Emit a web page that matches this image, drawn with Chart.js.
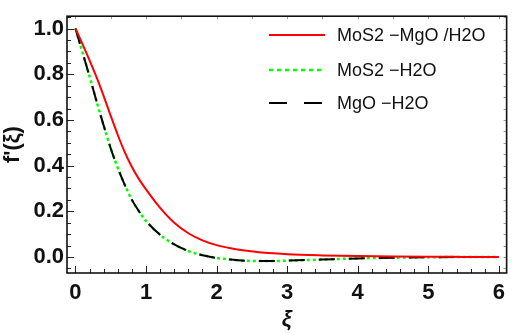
<!DOCTYPE html>
<html>
<head>
<meta charset="utf-8">
<script src="https://cdn.jsdelivr.net/npm/chart.js@4.4.0/dist/chart.umd.min.js"></script>
<style>
  html, body { margin: 0; padding: 0; background: #fff; }
  #wrap { width: 512px; height: 334px; }
</style>
</head>
<body>
<div id="wrap"><canvas id="myChart"></canvas></div>
<script>
// xi values and the f'(xi) profiles
var xi = [0, 0.1, 0.2, 0.3, 0.4, 0.5, 0.6, 0.7, 0.8, 0.9, 1.0, 1.2, 1.4, 1.6, 1.8, 2.0, 2.2, 2.4, 2.6, 2.8, 3.0, 3.5, 4.0, 4.5, 5.0, 5.5, 6.0];
var hybrid = [1, 0.932, 0.861, 0.786, 0.704, 0.618, 0.534, 0.458, 0.394, 0.341, 0.296, 0.215, 0.150, 0.104, 0.073, 0.052, 0.038, 0.028, 0.021, 0.016, 0.012, 0.007, 0.004, 0.002, 0.001, 0.0005, 0];
var mos2Water = [1, 0.895, 0.79, 0.68, 0.575, 0.475, 0.39, 0.315, 0.25, 0.2, 0.158, 0.097, 0.055, 0.026, 0.008, -0.004, -0.011, -0.016, -0.018, -0.018, -0.016, -0.011, -0.006, -0.003, -0.001, 0, 0];
var mgoWater = [1, 0.895, 0.79, 0.68, 0.575, 0.475, 0.39, 0.315, 0.25, 0.2, 0.158, 0.097, 0.055, 0.026, 0.008, -0.004, -0.011, -0.016, -0.018, -0.018, -0.016, -0.011, -0.006, -0.003, -0.001, 0, 0];
var seriesNames = ["MoS2 \u2212MgO /H2O", "MoS2 \u2212H2O", "MgO \u2212H2O"];
var xTicks = [0, 1, 2, 3, 4, 5, 6];
var yTicks = [0, 0.2, 0.4, 0.6, 0.8, 1.0];

function pts(ys) {
    return xi.map(function(x, i) { return {x: x, y: ys[i]}; });
}

var FONT = "'Liberation Sans', Arial, sans-serif";

// frame with inward ticks, like the original plot
var framePlugin = {
    id: 'frame',
    afterDraw: function(chart) {
        var ctx = chart.ctx, a = chart.chartArea;
        var sx = chart.scales.x, sy = chart.scales.y;
        ctx.save();
        ctx.strokeStyle = '#222';
        ctx.lineWidth = 1;
        // bottom ticks
        for (var i = 0; i <= 60; i++) {
            var v = i / 10;
            if (i % 2) continue;
            var px = Math.round(sx.getPixelForValue(v)) + 0.5;
            var len = (i % 10 === 0) ? 7 : 4;
            ctx.beginPath(); ctx.moveTo(px, a.bottom); ctx.lineTo(px, a.bottom - len); ctx.stroke();
        }
        // left ticks
        for (var j = -1; j <= 21; j++) {
            var yv = j * 0.05;
            var py = Math.round(sy.getPixelForValue(yv)) + 0.5;
            if (py < a.top || py > a.bottom) continue;
            var l2 = (j % 4 === 0) ? 7 : 4;
            ctx.beginPath(); ctx.moveTo(a.left, py); ctx.lineTo(a.left + l2, py); ctx.stroke();
        }
        // top and right small ticks
        ctx.strokeStyle = '#999';
        for (var k = 0; k <= 12; k++) {
            var tx = Math.round(sx.getPixelForValue(k * 0.5)) + 0.5;
            ctx.beginPath(); ctx.moveTo(tx, a.top); ctx.lineTo(tx, a.top + 3); ctx.stroke();
        }
        for (var m = -1; m <= 21; m++) {
            var ty = Math.round(sy.getPixelForValue(m * 0.05)) + 0.5;
            if (ty < a.top || ty > a.bottom) continue;
            ctx.beginPath(); ctx.moveTo(a.right, ty); ctx.lineTo(a.right - 3, ty); ctx.stroke();
        }
        ctx.strokeStyle = '#111';
        ctx.lineWidth = 1.6;
        ctx.strokeRect(a.left, a.top, a.right - a.left, a.bottom - a.top);
        ctx.restore();
    }
};

// legend inside the plot, top right
var legendPlugin = {
    id: 'insideLegend',
    afterDatasetsDraw: function(chart) {
        var ctx = chart.ctx;
        var rows = [35, 70, 103];
        var order = [0, 1, 2];
        ctx.save();
        order.forEach(function(di, r) {
            var ds = chart.data.datasets[di];
            ctx.strokeStyle = ds.borderColor;
            ctx.lineWidth = ds.borderWidth;
            ctx.setLineDash(ds.legendDash || []);
            ctx.beginPath();
            ctx.moveTo(269, rows[r]); ctx.lineTo(325, rows[r]);
            ctx.stroke();
            ctx.setLineDash([]);
            ctx.fillStyle = '#111';
            ctx.font = '18px ' + FONT;
            ctx.textBaseline = 'middle';
            ctx.fillText(ds.label, 337, rows[r] + 1);
        });
        ctx.restore();
    }
};

var config = {
    type: 'line',
    data: {
        datasets: [{
            label: seriesNames[0],
            data: pts(hybrid),
            borderColor: 'rgb(255, 0, 0)',
            borderWidth: 2,
            pointRadius: 0,
            cubicInterpolationMode: 'monotone',
            order: 0
        }, {
            label: seriesNames[1],
            data: pts(mos2Water),
            borderColor: 'rgb(0, 255, 0)',
            borderWidth: 2.5,
            borderDash: [3, 3],
            legendDash: [4, 4],
            pointRadius: 0,
            cubicInterpolationMode: 'monotone',
            order: 2
        }, {
            label: seriesNames[2],
            data: pts(mgoWater),
            borderColor: 'rgb(0, 0, 0)',
            borderWidth: 2,
            borderDash: [16, 14],
            legendDash: [18, 17],
            pointRadius: 0,
            cubicInterpolationMode: 'monotone',
            order: 1
        }]
    },
    options: {
        responsive: true,
        maintainAspectRatio: false,
        animation: false,
        layout: { padding: { top: 1, right: 1, left: 0, bottom: 0 } },
        plugins: { legend: { display: false }, tooltip: { enabled: false } },
        scales: {
            x: {
                type: 'linear',
                min: -0.12, max: 6.11,
                grid: { display: false, drawTicks: false },
                border: { display: false },
                afterBuildTicks: function(s) { s.ticks = xTicks.map(function(v) { return {value: v}; }); },
                afterFit: function(s) { s.height = 61; },
                ticks: {
                    color: '#111', padding: 7, maxRotation: 0, autoSkip: false,
                    font: { family: FONT, size: 22, weight: 'bold' },
                    callback: function(v) { return String(v); }
                },
                title: {
                    display: true, text: '\u03BE', color: '#111',
                    padding: { top: 0, bottom: 1 },
                    font: { family: FONT, size: 22, weight: 'bold', style: 'italic' }
                }
            },
            y: {
                min: -0.07, max: 1.054,
                grid: { display: false, drawTicks: false },
                border: { display: false },
                afterBuildTicks: function(s) { s.ticks = yTicks.map(function(v) { return {value: v}; }); },
                afterFit: function(s) { s.width = 67; },
                ticks: {
                    color: '#111', padding: 3, autoSkip: false,
                    font: { family: FONT, size: 22, weight: 'bold' },
                    callback: function(v) { return v.toFixed(1); }
                },
                title: {
                    display: true, text: "f'(\u03BE)", color: '#111',
                    padding: { top: 0, bottom: 0 },
                    font: { family: FONT, size: 22, weight: 'bold' }
                }
            }
        }
    },
    plugins: [framePlugin, legendPlugin]
};

var myChart = new Chart(document.getElementById('myChart'), config);
</script>
</body>
</html>
